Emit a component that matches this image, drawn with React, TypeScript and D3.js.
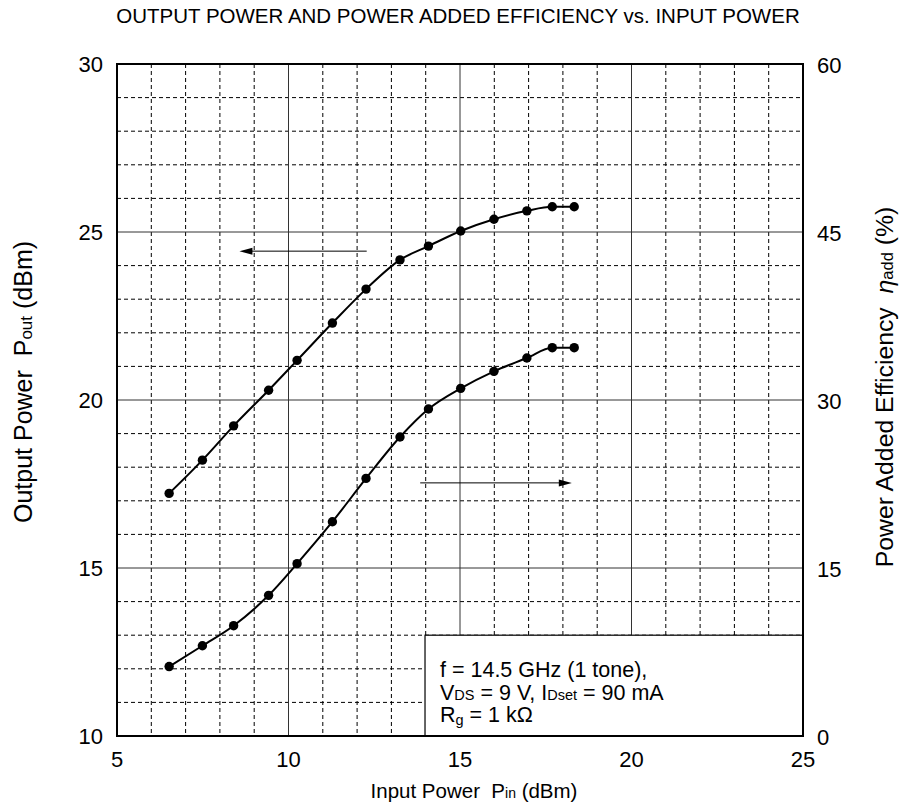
import React from "react";
import * as d3 from "d3";

const pinValues = [6.52, 7.49, 8.4, 9.42, 10.25, 11.28, 12.26, 13.25, 14.08, 15.02, 15.99, 16.95, 17.69, 18.33];
const poutValues = [17.22, 18.21, 19.23, 20.29, 21.18, 22.29, 23.3, 24.17, 24.58, 25.03, 25.38, 25.63, 25.75, 25.75];
const effValues = [6.2, 8.06, 9.85, 12.56, 15.39, 19.13, 23.0, 26.7, 29.2, 31.04, 32.56, 33.75, 34.67, 34.67];
const xTicks = [5, 10, 15, 20, 25];
const yLeftTicks = [10, 15, 20, 25, 30];
const yRightTicks = [0, 15, 30, 45, 60];

const W = 902, H = 807;
const L = 117, R = 803, T = 64, B = 736;
const FONT = "'Liberation Sans', Arial, Helvetica, sans-serif";

export default function App() {
  const x = d3.scaleLinear().domain([5, 25]).range([L, R]);
  const yL = d3.scaleLinear().domain([10, 30]).range([B, T]);
  const yR = d3.scaleLinear().domain([0, 60]).range([B, T]);

  const line = d3.line<[number, number]>().x(d => d[0]).y(d => d[1]).curve(d3.curveMonotoneX);
  const poutPts: [number, number][] = pinValues.map((p, i) => [x(p), yL(poutValues[i])]);
  const effPts: [number, number][] = pinValues.map((p, i) => [x(p), yR(effValues[i])]);

  const minorX = d3.range(6, 25).filter(v => v % 5 !== 0);
  const minorY = d3.range(11, 30).filter(v => v % 5 !== 0);

  const boxX = x(13.98), boxY = yL(13.0);
  const pre = { whiteSpace: "pre" as const };

  return (
    <svg width={W} height={H} style={{ position: "absolute", left: 0, top: 0, background: "#fff" }} fontFamily={FONT}>
      <rect x={0} y={0} width={W} height={H} fill="#fff" />
      <text x={(L + R) / 2 - 2} y={23} textAnchor="middle" fontSize={20.5}>OUTPUT POWER AND POWER ADDED EFFICIENCY vs. INPUT POWER</text>
      {/* minor grid */}
      {minorX.map(v => (
        <line key={"mx" + v} x1={x(v)} x2={x(v)} y1={T} y2={B} stroke="#000" strokeWidth={1} strokeDasharray="4,3" />
      ))}
      {minorY.map(v => (
        <line key={"my" + v} x1={L} x2={R} y1={yL(v)} y2={yL(v)} stroke="#000" strokeWidth={1} strokeDasharray="4,3" />
      ))}
      {/* major grid */}
      {xTicks.slice(1, -1).map(v => (
        <line key={"Mx" + v} x1={x(v)} x2={x(v)} y1={T} y2={B} stroke="#333" strokeWidth={1} />
      ))}
      {yLeftTicks.slice(1, -1).map(v => (
        <line key={"My" + v} x1={L} x2={R} y1={yL(v)} y2={yL(v)} stroke="#333" strokeWidth={1} />
      ))}
      {/* annotation box */}
      <rect x={boxX} y={boxY} width={R - boxX} height={B - boxY} fill="#fff" stroke="#000" strokeWidth={1.2} />
      <text x={boxX + 15} y={677} fontSize={21.5}>f = 14.5 GHz (1 tone),</text>
      <text x={boxX + 15} y={700} fontSize={21.5}>
        V<tspan fontSize={14.5}>DS</tspan> = 9 V, I<tspan fontSize={14.5}>Dset</tspan> = 90 mA
      </text>
      <text x={boxX + 15} y={722} fontSize={21.5}>
        R<tspan fontSize={14.5} dy={3}>g</tspan><tspan dy={-3}> = 1 kΩ</tspan>
      </text>
      {/* frame */}
      <rect x={L} y={T} width={R - L} height={B - T} fill="none" stroke="#000" strokeWidth={2} />
      {/* curves */}
      <path d={line(poutPts) || ""} fill="none" stroke="#000" strokeWidth={2} />
      <path d={line(effPts) || ""} fill="none" stroke="#000" strokeWidth={2} />
      {poutPts.map((p, i) => <circle key={"p" + i} cx={p[0]} cy={p[1]} r={4.7} fill="#000" />)}
      {effPts.map((p, i) => <circle key={"e" + i} cx={p[0]} cy={p[1]} r={4.7} fill="#000" />)}
      {/* arrows */}
      <line x1={x(12.28)} x2={x(8.9)} y1={yL(24.43)} y2={yL(24.43)} stroke="#000" strokeWidth={1} />
      <path d={`M${x(8.57)},${yL(24.43)} L${x(8.57) + 13},${yL(24.43) - 3.5} L${x(8.57) + 13},${yL(24.43) + 3.5} Z`} fill="#000" />
      <line x1={x(13.84)} x2={x(17.9)} y1={yR(22.6)} y2={yR(22.6)} stroke="#000" strokeWidth={1} />
      <path d={`M${x(18.26)},${yR(22.6)} L${x(18.26) - 13},${yR(22.6) - 3.5} L${x(18.26) - 13},${yR(22.6) + 3.5} Z`} fill="#000" />
      {/* tick labels */}
      {xTicks.map(v => (
        <text key={"xt" + v} x={x(v)} y={B + 31} textAnchor="middle" fontSize={22}>{v}</text>
      ))}
      {yLeftTicks.map(v => (
        <text key={"yl" + v} x={L - 14} y={yL(v) + 8} textAnchor="end" fontSize={22}>{v}</text>
      ))}
      {yRightTicks.map(v => (
        <text key={"yr" + v} x={R + 14} y={yR(v) + 9} textAnchor="start" fontSize={22}>{v}</text>
      ))}
      {/* axis titles */}
      <text x={474} y={798} textAnchor="middle" fontSize={20.5} style={pre}>
        {"Input Power  P"}<tspan fontSize={14}>in</tspan>{" (dBm)"}
      </text>
      <text transform={`translate(32,382) rotate(-90)`} textAnchor="middle" fontSize={25} style={pre}>
        {"Output Power  P"}<tspan fontSize={17}>out</tspan>{" (dBm)"}
      </text>
      <text transform={`translate(893,387) rotate(-90)`} textAnchor="middle" fontSize={24.8} style={pre}>
        {"Power Added Efficiency  "}<tspan fontStyle="italic">η</tspan><tspan fontSize={16.5}>add</tspan>{" (%)"}
      </text>
    </svg>
  );
}
